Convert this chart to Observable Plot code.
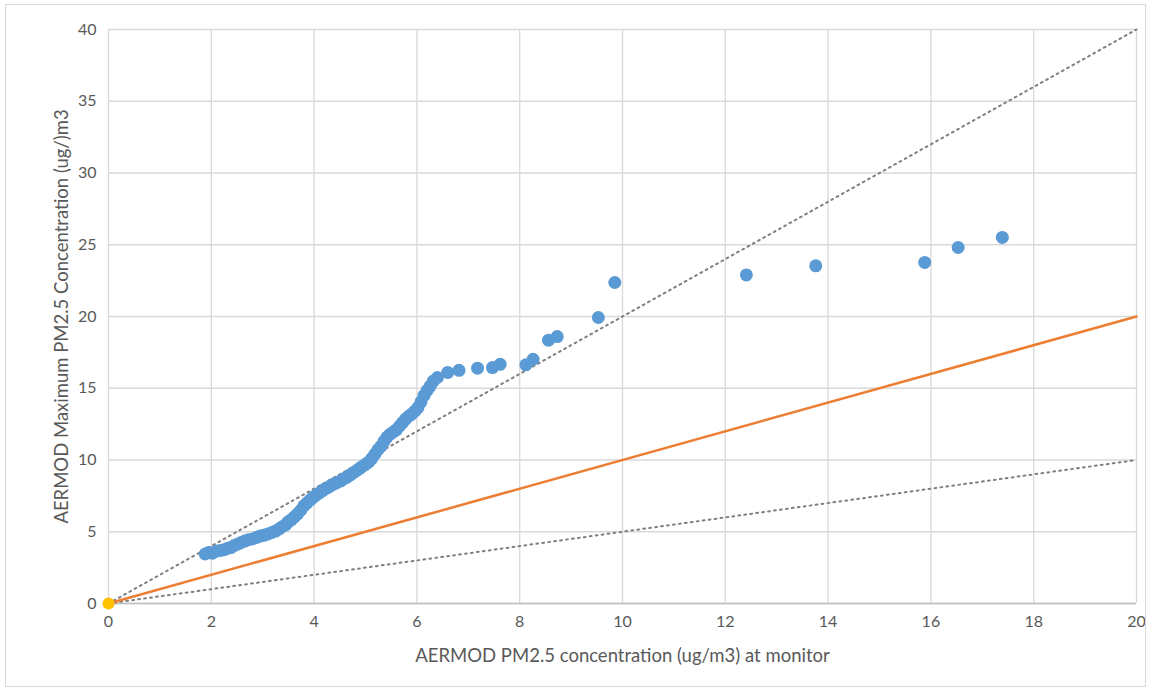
<!DOCTYPE html>
<html>
<head>
<meta charset="utf-8">
<script src="https://cdn.jsdelivr.net/npm/d3@7"></script>
<script src="https://cdn.jsdelivr.net/npm/@observablehq/plot@0.6"></script>
<style>
  html, body { margin: 0; padding: 0; background: #fff; }
  #wrap { position: relative; width: 1150px; height: 691px; }
  #border { position: absolute; left: 5px; top: 4px; width: 1139px; height: 681px; border: 1px solid #D9D9D9; pointer-events: none; }
  svg { font-family: Lato, "Open Sans", sans-serif; }
</style>
</head>
<body>
<div id="wrap"><div id="border"></div></div>
<script>
// Monitor concentration (x) vs AERMOD maximum concentration (y)
const monitorX = [
  1.88, 1.95, 2.02, 2.10, 2.18, 2.25, 2.32, 2.38, 2.45, 2.52, 2.58, 2.65, 2.72, 2.80, 2.88, 2.95,
  3.02, 3.10, 3.18, 3.25, 3.32, 3.38, 3.45, 3.50, 3.56, 3.62, 3.68, 3.74, 3.80, 3.86, 3.92, 3.98,
  4.04, 4.10, 4.16, 4.22, 4.28, 4.34, 4.40, 4.46, 4.52, 4.58, 4.64, 4.70, 4.76, 4.82, 4.88, 4.94,
  5.00, 5.06, 5.12, 5.18, 5.24, 5.30, 5.36, 5.42, 5.48, 5.54, 5.60, 5.66, 5.72, 5.78, 5.84, 5.90,
  5.96, 6.02, 6.08, 6.14, 6.20, 6.26, 6.32, 6.40, 6.60, 6.82, 7.18,
  7.47, 7.62, 8.12, 8.26, 8.56, 8.73, 9.53, 9.85, 12.41, 13.76, 15.88, 16.53, 17.39
];
const maxY = [
  3.45, 3.55, 3.50, 3.65, 3.70, 3.75, 3.85, 3.90, 4.05, 4.15, 4.25, 4.35, 4.45, 4.50, 4.60, 4.70,
  4.75, 4.85, 4.95, 5.05, 5.20, 5.35, 5.50, 5.70, 5.85, 6.05, 6.25, 6.50, 6.80, 7.00, 7.20, 7.40,
  7.55, 7.70, 7.85, 8.00, 8.10, 8.25, 8.35, 8.45, 8.55, 8.70, 8.80, 8.95, 9.10, 9.25, 9.40, 9.55,
  9.70, 9.85, 10.10, 10.40, 10.70, 10.95, 11.30, 11.60, 11.80, 11.95, 12.10, 12.35, 12.60, 12.85, 13.05, 13.20,
  13.40, 13.65, 14.05, 14.50, 14.85, 15.15, 15.50, 15.75, 16.10, 16.25, 16.40,
  16.44, 16.67, 16.63, 17.02, 18.35, 18.60, 19.93, 22.37, 22.90, 23.53, 23.77, 24.81, 25.51
];
// Reference lines: y = slope * x
const refX = [0, 20];
const slopeOneToOne = 1;     // orange solid
const slopeFactorTwo = 2;    // dotted upper
const slopeFactorHalf = 0.5; // dotted lower
const originPoint = [{x: 0, y: 0}];

const xTicks = [0, 2, 4, 6, 8, 10, 12, 14, 16, 18, 20];
const yTicks = [0, 5, 10, 15, 20, 25, 30, 35, 40];
const xLabel = "AERMOD PM2.5 concentration (ug/m3) at monitor";
const yLabel = "AERMOD Maximum PM2.5 Concentration (ug/)m3";

const points = monitorX.map((x, i) => ({x, y: maxY[i]}));
const line = s => refX.map(x => ({x, y: s * x}));

const chart = Plot.plot({
  width: 1150,
  height: 691,
  marginLeft: 108,
  marginRight: 14,
  marginTop: 29,
  marginBottom: 88,
  style: {fontFamily: "Lato, 'Open Sans', sans-serif", fontSize: "16px", color: "#595959", background: "transparent"},
  x: {domain: [0, 20], ticks: xTicks},
  y: {domain: [0, 40], ticks: yTicks},
  marks: [
    Plot.gridX(xTicks, {stroke: "#D9D9D9", strokeOpacity: 1, strokeWidth: 1.3}),
    Plot.gridY(yTicks, {stroke: "#D9D9D9", strokeOpacity: 1, strokeWidth: 1.3}),
    Plot.ruleY([0], {stroke: "#BFBFBF", strokeWidth: 1.3}),
    Plot.axisX(xTicks, {tickSize: 0, tickPadding: 12, fill: "#595959", fontSize: 16, label: null}),
    Plot.axisY(yTicks, {tickSize: 0, tickPadding: 12, fill: "#595959", fontSize: 16, label: null}),
    Plot.line(line(slopeFactorTwo), {x: "x", y: "y", stroke: "#7F7F7F", strokeWidth: 2, strokeDasharray: "1.8 4.2", strokeLinecap: "round"}),
    Plot.line(line(slopeFactorHalf), {x: "x", y: "y", stroke: "#7F7F7F", strokeWidth: 2, strokeDasharray: "1.8 4.2", strokeLinecap: "round"}),
    Plot.line(line(slopeOneToOne), {x: "x", y: "y", stroke: "#ED7D31", strokeWidth: 2.5}),
    Plot.dot(points, {x: "x", y: "y", r: 6.5, fill: "#5B9BD5", stroke: "none"}),
    Plot.dot(originPoint, {x: "x", y: "y", r: 6, fill: "#FFC000", stroke: "none"}),
    Plot.text([xLabel], {frameAnchor: "bottom", text: d => d, dy: 58, fontSize: 18.5, fill: "#595959", textAnchor: "middle"}),
    Plot.text([yLabel], {frameAnchor: "left", text: d => d, rotate: -90, dx: -46, fontSize: 18.5, fill: "#595959", textAnchor: "middle"})
  ]
});
document.getElementById("wrap").prepend(chart);
</script>
</body>
</html>
